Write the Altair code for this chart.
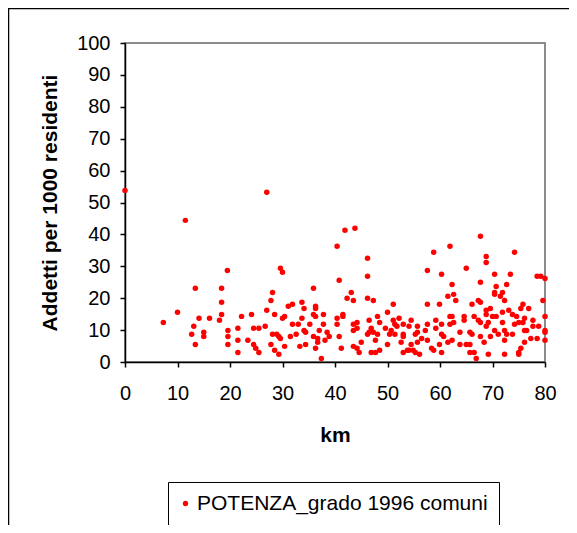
import altair as alt
import pandas as pd

SERIES = "POTENZA_grado 1996 comuni"

# km 0-26
km_a = [0, 11.5, 19.5, 13.4, 18.4, 18.4, 18.4, 18.0, 16.1, 14.1,
        10.0, 7.3, 13.1, 12.7, 15.0, 15.0, 13.4, 19.6, 19.6, 19.6,
        21.5, 21.5, 21.5, 22.2, 23.4, 24.1, 24.5, 24.5, 24.9, 25.5,
        25.5]
add_a = [53.8, 44.4, 28.7, 23.1, 23.1, 18.7, 14.9, 13.1, 13.7, 13.7,
         15.6, 12.4, 11.2, 8.7, 9.3, 8.0, 5.5, 9.9, 8.0, 5.5,
         10.6, 6.8, 3.0, 14.3, 6.8, 14.9, 10.6, 5.5, 4.3, 10.6,
         3.0]

# km 26-50
km_b = [26.7, 27.0, 27.0, 27.8, 27.8, 28.1, 28.5, 28.5, 28.1, 28.9,
        29.3, 29.6, 29.3, 29.6, 30.0, 30.0, 30.4, 30.4, 31.1, 31.9,
        31.9, 31.5, 32.6, 33.0, 33.3, 33.7, 34.1, 33.7, 34.1, 34.4,
        34.4, 35.2, 35.9, 35.9, 36.3, 36.3, 36.3, 35.9, 36.7, 36.7,
        36.3, 37.0, 37.8, 37.8, 37.4, 38.1, 38.5, 38.9, 40.4, 40.8,
        40.4, 40.4, 40.8, 41.2, 41.5, 41.5, 41.9, 42.3, 43.1, 43.5,
        43.8, 43.5, 43.5, 43.5, 44.2, 44.2, 44.2, 44.6, 45.0, 46.2,
        46.2, 46.2, 47.3, 46.5, 46.2, 46.5, 46.9, 47.3, 47.7, 48.1,
        48.5, 48.1, 46.9, 47.7, 48.5, 49.6, 50.0, 50.4, 50.0]
add_b = [11.2, 53.2, 16.2, 5.5, 19.3, 21.8, 14.9, 3.7, 8.7, 8.7,
         8.0, 7.4, 2.4, 29.4, 28.1, 13.7, 14.3, 4.9, 17.5, 18.1,
         11.8, 8.0, 8.7, 11.8, 4.9, 18.7, 16.8, 13.7, 9.9, 9.3,
         5.5, 11.8, 23.1, 14.9, 17.5, 16.8, 14.3, 8.0, 7.4, 6.2,
         4.3, 9.9, 14.9, 11.8, 1.1, 6.8, 9.3, 8.0, 36.3, 25.6,
         13.7, 11.8, 8.0, 4.3, 14.9, 14.3, 41.3, 20.0, 21.8, 19.3,
         41.9, 11.8, 9.9, 4.9, 12.4, 10.6, 4.3, 3.0, 6.2, 32.5,
         26.9, 20.0, 19.3, 13.1, 8.7, 9.3, 10.6, 9.3, 6.8, 14.3,
         12.4, 8.7, 3.0, 3.0, 3.7, 10.6, 15.6, 8.7, 5.5]

# km 50-80
km_c = [51.1, 51.1, 51.4, 51.8, 50.7, 51.4, 52.6, 52.2, 53.0, 53.0,
        53.0, 53.0, 53.8, 54.1, 54.5, 54.5, 54.1, 54.9, 55.3, 55.7,
        55.7, 55.7, 55.3, 56.1, 56.5, 57.2, 57.6, 57.6, 57.6, 57.6,
        58.4, 58.8, 59.2, 59.2, 58.8, 59.9, 60.3, 60.3, 60.3, 60.7,
        59.9, 60.3, 61.5, 61.9, 62.3, 62.6, 63.0, 61.9, 62.3, 61.9,
        62.6, 61.5, 62.3, 63.8, 63.8, 64.6, 64.6, 65.0, 65.0, 65.7,
        65.7, 65.7, 66.1, 66.5, 66.1, 66.5, 66.9, 67.3, 67.7, 67.7,
        67.7, 67.3, 67.7, 67.7, 68.4, 68.8, 68.8, 68.8, 68.8, 69.2,
        68.8, 69.6, 69.6, 69.2, 70.4, 70.7, 70.4, 70.4, 70.0, 70.4,
        70.7, 71.1, 71.5, 71.9, 72.3, 72.7, 71.9, 71.9, 72.3, 72.3,
        72.3, 72.7, 73.1, 73.4, 73.8, 74.2, 74.2, 73.8, 74.6, 75.0,
        75.0, 75.0, 75.4, 75.8, 75.4, 75.8, 76.1, 76.1, 76.1, 76.5,
        76.9, 77.3, 77.7, 77.7, 78.5, 79.2, 80.0, 78.8, 78.5, 79.6,
        80.0, 80.0, 80.0, 80.0]
add_c = [18.1, 13.1, 11.8, 11.2, 9.9, 8.7, 6.2, 13.7, 11.8, 8.7,
         8.0, 3.0, 3.7, 11.2, 13.1, 5.5, 3.7, 3.7, 8.7, 11.2,
         9.3, 6.2, 3.0, 2.4, 7.4, 9.9, 28.7, 18.1, 11.8, 6.8,
         4.3, 34.4, 13.1, 10.6, 3.7, 18.1, 27.5, 11.8, 8.7, 8.0,
         5.5, 3.0, 20.6, 36.3, 24.3, 21.2, 19.3, 14.3, 14.3, 11.8,
         12.4, 6.2, 6.8, 9.3, 5.5, 14.3, 13.1, 29.4, 5.5, 5.5,
         9.3, 3.0, 18.1, 14.3, 8.7, 3.0, 1.1, 19.3, 18.7, 39.4,
         25.0, 13.1, 12.4, 8.0, 6.2, 33.1, 31.2, 16.2, 14.9, 12.4,
         11.2, 16.8, 8.0, 2.4, 27.5, 23.7, 21.8, 21.2, 14.3, 9.9,
         14.3, 8.7, 20.6, 21.8, 19.3, 24.3, 15.6, 12.4, 9.9, 6.8,
         2.4, 8.7, 16.2, 27.5, 14.9, 34.4, 11.8, 8.7, 14.3, 12.4,
         3.0, 2.4, 4.3, 18.1, 16.8, 12.4, 13.7, 9.9, 6.2, 9.9,
         16.8, 7.4, 13.1, 11.2, 26.9, 26.9, 26.2, 11.2, 7.4, 19.3,
         14.3, 9.9, 9.3, 6.8]

x_ticks = [0, 10, 20, 30, 40, 50, 60, 70, 80]
y_ticks = [0, 10, 20, 30, 40, 50, 60, 70, 80, 90, 100]

df = pd.DataFrame({
    "km": km_a + km_b + km_c,
    "addetti": add_a + add_b + add_c,
})
df["serie"] = SERIES

FONT = "Liberation Sans"

points = alt.Chart(df).mark_circle(size=30, opacity=1).encode(
    x=alt.X("km:Q",
            scale=alt.Scale(domain=[0, 80], nice=False, zero=False),
            axis=alt.Axis(values=x_ticks, title="km", grid=False,
                          domainColor="black", domainWidth=1.5,
                          tickColor="black", tickWidth=1.5, tickSize=5,
                          labelFont=FONT, labelFontSize=20, labelColor="black",
                          labelPadding=16, labelFlush=False,
                          titleFont=FONT, titleFontSize=21, titleFontWeight="bold",
                          titleColor="black", titlePadding=21)),
    y=alt.Y("addetti:Q",
            scale=alt.Scale(domain=[0, 100], nice=False),
            axis=alt.Axis(values=y_ticks, title="Addetti per 1000 residenti", grid=False,
                          domainColor="black", domainWidth=1.5,
                          tickColor="black", tickWidth=1.5, tickSize=5,
                          labelFont=FONT, labelFontSize=20, labelColor="black",
                          labelPadding=10, labelFlush=False,
                          titleFont=FONT, titleFontSize=21, titleFontWeight="bold",
                          titleColor="black", titlePadding=16)),
    color=alt.Color("serie:N",
                    scale=alt.Scale(range=["#ff0000"]),
                    legend=alt.Legend(title=None, orient="none", legendX=43, legendY=439,
                                      strokeColor="black", padding=11,
                                      symbolType="circle", symbolSize=28,
                                      symbolOffset=-4,
                                      labelFont=FONT, labelFontSize=21, labelColor="black",
                                      labelOffset=1, labelLimit=500)),
)

frame = alt.Chart(alt.Data(values=[{"a": 1}])).mark_rect(
    fill=None, stroke="black", strokeWidth=1.5
).encode(
    x=alt.value(-116.5), x2=alt.value(500),
    y=alt.value(-34.5), y2=alt.value(520),
)

chart = alt.layer(frame, points).properties(
    width=420, height=319,
    autosize=alt.AutoSizeParams(type="none"),
    padding={"left": 117, "top": 35, "right": 24, "bottom": 163},
    background="white",
).configure_view(stroke="#8c8c8c", strokeWidth=2)

chart.save("out.html", embed_options={"renderer": "svg", "actions": False})
